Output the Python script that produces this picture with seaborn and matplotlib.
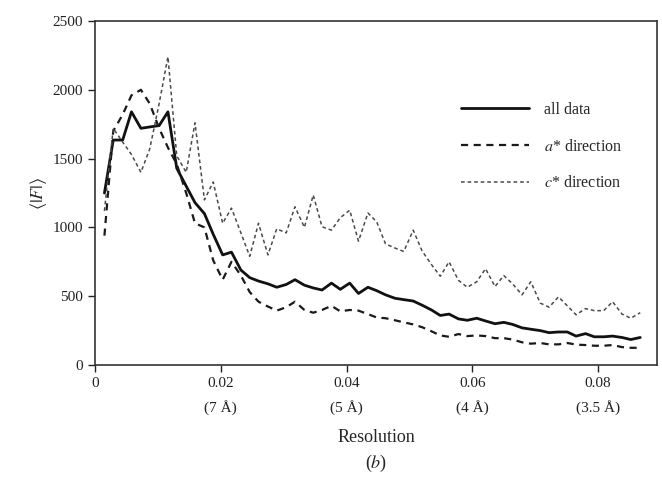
import numpy as np
import pandas as pd
import matplotlib
matplotlib.use("Agg")
import matplotlib.pyplot as plt
import seaborn as sns

# resolution bins (1/d^2)
resolution = [0.0015, 0.0029, 0.0044, 0.0058, 0.0073, 0.0087, 0.0102, 0.0116, 0.0130, 0.0145,
              0.0159, 0.0174, 0.0188, 0.0203, 0.0217, 0.0232, 0.0246, 0.0260, 0.0275, 0.0289,
              0.0304, 0.0318, 0.0333, 0.0347, 0.0361, 0.0376, 0.0390, 0.0405, 0.0419, 0.0434,
              0.0448, 0.0462, 0.0477, 0.0491, 0.0506, 0.0520, 0.0535, 0.0549, 0.0563, 0.0578,
              0.0592, 0.0607, 0.0621, 0.0636, 0.0650, 0.0664, 0.0679, 0.0693, 0.0708, 0.0722,
              0.0737, 0.0751, 0.0765, 0.0780, 0.0794, 0.0809, 0.0823, 0.0838, 0.0852, 0.0867]

all_data = [1250, 1635, 1635, 1840, 1720, 1730, 1740, 1840, 1430, 1300,
            1180, 1100, 950, 800, 820, 690, 635, 610, 590, 565,
            585, 620, 580, 560, 545, 595, 550, 595, 520, 565,
            540, 510, 485, 475, 465, 435, 400, 360, 370, 335,
            325, 340, 320, 300, 310, 295, 270, 260, 250, 235,
            240, 240, 210, 228, 205, 205, 210, 200, 185, 200]

a_dir = [940, 1700, 1820, 1960, 2000, 1900, 1720, 1580, 1460, 1250,
         1030, 1000, 760, 620, 750, 650, 530, 460, 425, 395,
         420, 460, 400, 380, 400, 430, 390, 400, 395, 370,
         345, 340, 325, 310, 295, 275, 245, 215, 205, 225,
         210, 215, 210, 195, 195, 185, 165, 155, 160, 150,
         150, 160, 148, 145, 140, 140, 145, 130, 125, 125]

c_dir = [1120, 1720, 1620, 1530, 1400, 1570, 1900, 2240, 1520, 1400,
         1760, 1200, 1330, 1030, 1140, 960, 790, 1030, 800, 990,
         960, 1150, 1000, 1235, 1005, 980, 1070, 1125, 900, 1105,
         1040, 880, 850, 825, 980, 830, 730, 645, 750, 615,
         565, 605, 700, 570, 650, 590, 510, 605, 450, 420,
         495, 430, 365, 410, 395, 395, 460, 370, 340, 380]

xticks = [0, 0.02, 0.04, 0.06, 0.08]
xticklabels = ["0", "0.02\n(7 Å)", "0.04\n(5 Å)", "0.06\n(4 Å)", "0.08\n(3.5 Å)"]
yticks = [0, 500, 1000, 1500, 2000, 2500]

sns.set_style("ticks")
plt.rcParams["font.family"] = ["Liberation Serif", "DejaVu Serif"]
plt.rcParams["mathtext.fontset"] = "stix"

df = pd.DataFrame({"res": resolution, "all": all_data, "a": a_dir, "c": c_dir})

fig = plt.figure(figsize=(6.62, 4.78), dpi=100)
ax = fig.add_axes([95 / 662, 1 - 365 / 478, (657 - 95) / 662, (365 - 21) / 478])

sns.lineplot(data=df, x="res", y="all", ax=ax, color="#111111", linewidth=2.0,
             label="all data")
sns.lineplot(data=df, x="res", y="a", ax=ax, color="#1a1a1a", linewidth=1.6,
             linestyle=(0, (3.2, 2.5)), label=r"$a$* direction")
sns.lineplot(data=df, x="res", y="c", ax=ax, color="#4a4a4a", linewidth=1.1,
             linestyle=(0, (2.4, 1.9)), label=r"$c$* direction")

ax.set_xlim(0, (657 - 94) / 6300)
ax.set_ylim(0, 2500)
ax.set_xticks(xticks)
ax.set_xticklabels(xticklabels, fontsize=11, linespacing=1.9)
ax.set_yticks(yticks)
ax.set_yticklabels([str(v) for v in yticks], fontsize=11)
ax.tick_params(direction="out", length=5, width=1, colors="#222222")
for s in ax.spines.values():
    s.set_linewidth(1.2)
    s.set_color("#333333")

ax.set_xlabel("Resolution", fontsize=13, labelpad=10)
ax.set_ylabel(r"$\langle|F|\rangle$", fontsize=13, labelpad=3)

leg = ax.legend(loc="upper left", bbox_to_anchor=(0.652, 0.765), frameon=False,
                fontsize=11.5, handlelength=4.2, handletextpad=1.0,
                labelspacing=1.3, borderpad=0, borderaxespad=0)

fig.text(95 / 662 + (657 - 95) / 662 / 2, 1 - 463 / 478, r"($b$)", fontsize=13,
         ha="center", va="center")

fig.savefig("out.png", dpi=100)
